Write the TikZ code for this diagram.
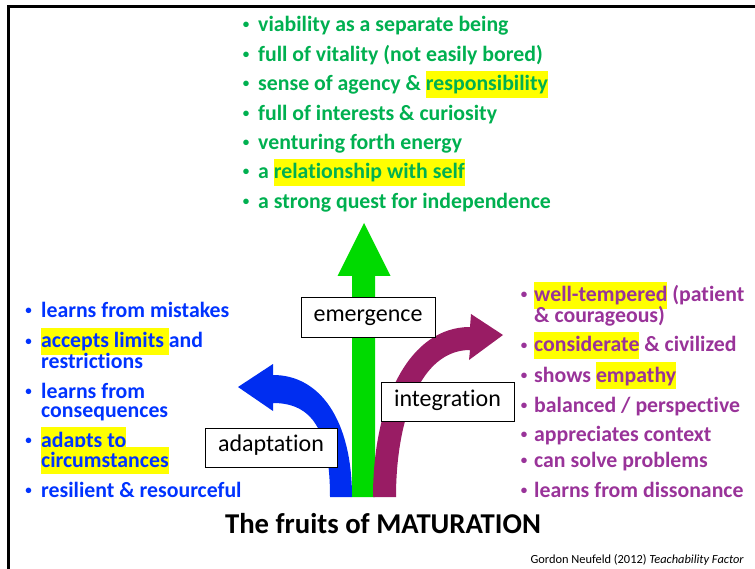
\documentclass[tikz,border=0pt]{standalone}
\usepackage{fontspec}
\setmainfont{Carlito}[Ligatures=NoCommon]
\definecolor{listgreen}{RGB}{0,176,80}
\definecolor{arrowgreen}{RGB}{0,218,0}
\definecolor{listblue}{RGB}{0,51,255}
\definecolor{arrowblue}{RGB}{0,45,240}
\definecolor{listpurple}{RGB}{153,51,153}
\definecolor{arrowpurple}{RGB}{153,28,100}
\definecolor{hlyellow}{RGB}{255,255,0}
% yellow text highlight covering the full line height
\newcommand{\hlt}[1]{{\setlength{\fboxsep}{0pt}\colorbox{hlyellow}{\rule[-0.32em]{0pt}{1.24em}#1}}}

\begin{document}
\begin{tikzpicture}[x=1pt,y=-1pt,
  item/.style={anchor=base west, inner sep=0pt, font=\fontsize{21.8}{26}\selectfont\bfseries},
  dot/.style={anchor=base, inner sep=0pt, yshift=3pt, font=\fontsize{13}{15}\selectfont\bfseries},
  labelbox/.style={draw=black, line width=1pt, fill=white, inner sep=0pt,
    font=\fontsize{24}{28}\selectfont, text height=1.03em, text depth=0.2em,
    minimum height=39pt},
  ]
\useasboundingbox (0,0) rectangle (755,569);

% frame (open at right and bottom)
\draw[line width=2.6pt, line join=miter] (8.5,569) -- (8.5,6.5) -- (755,6.5);

% ---- arrows ----
\fill[arrowblue] (330,497) .. controls (330,430) and (312,403) .. (273,403)
  -- (273,411) -- (238,387) -- (273,364) -- (273,375)
  .. controls (320,375) and (352,420) .. (352,497) -- cycle;
\fill[arrowgreen] (352,497) -- (352,276) -- (337.5,276) -- (364,223)
  -- (390.5,276) -- (375,276) -- (375,497) -- cycle;
\fill[arrowpurple] (373,497) .. controls (373,400) and (410,327) .. (470,327)
  -- (471,314) -- (503,335) -- (469,360) -- (470,350)
  .. controls (420,350) and (396,420) .. (396,497) -- cycle;

% ---- labels on the arrows ----
\node[labelbox, minimum width=134pt] (emergence) at (368,317.5) {emergence};
\node[labelbox, minimum width=133pt] (integration) at (447.5,402) {integration};
\node[labelbox, minimum width=132pt] (adaptation) at (271,447.5) {adaptation};

% ---- emergence list ----
\begin{scope}[listgreen]
\node[dot] (gd1) at (246,32) {•};
\node[item] (g1) at (258,32) {viability as a separate being};
\node[dot] (gd2) at (246,61.4) {•};
\node[item] (g2) at (258,61.4) {full of vitality (not easily bored)};
\node[dot] (gd3) at (246,90.8) {•};
\node[item] (g3) at (258,90.8) {sense of agency \& \hlt{responsibility}};
\node[dot] (gd4) at (246,120.2) {•};
\node[item] (g4) at (258,120.2) {full of interests \& curiosity};
\node[dot] (gd5) at (246,149.6) {•};
\node[item] (g5) at (258,149.6) {venturing forth energy};
\node[dot] (gd6) at (246,179) {•};
\node[item] (g6) at (258,179) {a \hlt{relationship with self}};
\node[dot] (gd7) at (246,208.4) {•};
\node[item] (g7) at (258,208.4) {a strong quest for independence};
\end{scope}

% ---- adaptation list ----
\begin{scope}[listblue]
\node[dot] (bd1) at (28.5,318) {•};
\node[item] (b1) at (41,318) {learns from mistakes};
\node[dot] (bd2) at (28.5,348) {•};
\node[item] (b2) at (41,348) {\hlt{accepts limits }and};
\node[item] (b2b) at (41,368) {restrictions};
\node[dot] (bd3) at (28.5,398) {•};
\node[item] (b3) at (41,398) {learns from};
\node[item] (b3b) at (41,417.5) {consequences};
\node[dot] (bd4) at (28.5,447.5) {•};
\node[item] (b4) at (41,447.5) {\hlt{adapts to}};
\node[item] (b4b) at (41,467.5) {\hlt{circumstances}};
\node[dot] (bd5) at (28.5,497) {•};
\node[item] (b5) at (41,497) {resilient \& resourceful};
\end{scope}

% ---- integration list ----
\begin{scope}[listpurple]
\node[dot] (pd1) at (524,302) {•};
\node[item] (p1) at (534,302) {\hlt{well-tempered} (patient};
\node[item] (p1b) at (534,323) {\& courageous)};
\node[dot] (pd2) at (524,352) {•};
\node[item] (p2) at (534,352) {\hlt{considerate} \& civilized};
\node[dot] (pd3) at (524,382) {•};
\node[item] (p3) at (534,382) {shows \hlt{empathy}};
\node[dot] (pd4) at (524,412) {•};
\node[item] (p4) at (534,412) {balanced / perspective};
\node[dot] (pd5) at (524,441) {•};
\node[item] (p5) at (534,441) {appreciates context};
\node[dot] (pd6) at (524,467) {•};
\node[item] (p6) at (534,467) {can solve problems};
\node[dot] (pd7) at (524,497) {•};
\node[item] (p7) at (534,497) {learns from dissonance};
\end{scope}

% ---- title and credit ----
\node[anchor=base, inner sep=0pt, font=\fontsize{28.7}{34}\selectfont\bfseries]
  (title) at (383,533) {The fruits of MATURATION};
\node[anchor=base east, inner sep=0pt, font=\fontsize{12.4}{15}\selectfont]
  (credit) at (744,563) {Gordon Neufeld (2012) \textit{Teachability Factor}};
\end{tikzpicture}
\end{document}
